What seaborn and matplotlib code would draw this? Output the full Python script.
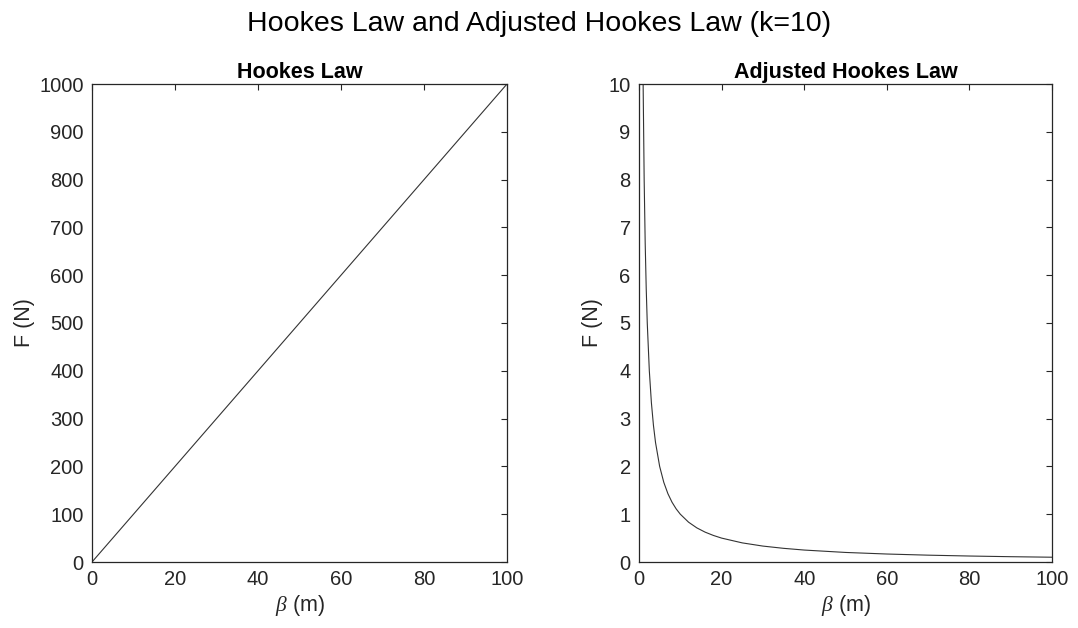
import matplotlib
matplotlib.use("Agg")
import matplotlib.pyplot as plt
import seaborn as sns
import pandas as pd

# Spring constant used in both laws
k = 10

# Hookes law: F = k * beta (straight line)
hooke_beta = [0, 100]
hooke_force = [0, 1000]

# Adjusted Hookes law: F = k / beta
adj_beta = [1, 1.25, 1.5, 1.75, 2, 2.5, 3, 3.5, 4, 5, 6, 7, 8, 9, 10,
            12, 14, 16, 18, 20, 25, 30, 35, 40, 50, 60, 70, 80, 90, 100]
adj_force = [10, 8, 6.667, 5.714, 5, 4, 3.333, 2.857, 2.5, 2, 1.667, 1.429,
             1.25, 1.111, 1, 0.833, 0.714, 0.625, 0.556, 0.5, 0.4, 0.333,
             0.286, 0.25, 0.2, 0.167, 0.143, 0.125, 0.111, 0.1]

x_ticks = [0, 20, 40, 60, 80, 100]
left_y_ticks = [0, 100, 200, 300, 400, 500, 600, 700, 800, 900, 1000]
right_y_ticks = [0, 1, 2, 3, 4, 5, 6, 7, 8, 9, 10]

sns.set_theme(style="white")
plt.rcParams["font.family"] = ["Liberation Sans", "DejaVu Sans"]
plt.rcParams["mathtext.fontset"] = "custom"
plt.rcParams["mathtext.it"] = "Liberation Serif:italic"
plt.rcParams["mathtext.rm"] = "Liberation Sans"

axis_color = "#262626"
label_color = "#262626"

fig = plt.figure(figsize=(10.78, 6.28), dpi=100)
fig.patch.set_facecolor("white")

ax_left = fig.add_axes([92 / 1078, 1 - 562 / 628, 415 / 1078, 478 / 628])
ax_right = fig.add_axes([639 / 1078, 1 - 562 / 628, 413 / 1078, 478 / 628])

df_left = pd.DataFrame({"beta": hooke_beta, "F": hooke_force})
df_right = pd.DataFrame({"beta": adj_beta, "F": adj_force})

sns.lineplot(data=df_left, x="beta", y="F", ax=ax_left, color="#333333",
             linewidth=0.8, sort=True)
sns.lineplot(data=df_right, x="beta", y="F", ax=ax_right, color="#333333",
             linewidth=0.8, sort=True)

for ax, yt, ttl, ypad in [(ax_left, left_y_ticks, "Hookes Law", 3),
                          (ax_right, right_y_ticks, "Adjusted Hookes Law", 4)]:
    ax.set_xlim(0, 100)
    ax.set_ylim(yt[0], yt[-1])
    ax.set_xticks(x_ticks)
    ax.set_yticks(yt)
    ax.set_xticklabels([str(v) for v in x_ticks])
    ax.set_yticklabels([str(v) for v in yt])
    ax.tick_params(direction="in", length=4, width=0.8, colors=axis_color,
                   labelcolor=label_color, labelsize=14.5, top=True,
                   right=True, pad=6)
    for sp in ax.spines.values():
        sp.set_visible(True)
        sp.set_color(axis_color)
        sp.set_linewidth(0.9)
    ax.set_title(ttl, fontsize=15.5, fontweight="bold", color="black", pad=4)
    ax.set_xlabel(r"$\beta$ (m)", fontsize=15.5, color=label_color, labelpad=3)
    ax.set_ylabel("F (N)", fontsize=15.5, color=label_color, labelpad=ypad)
    ax.set_facecolor("white")

fig.suptitle("Hookes Law and Adjusted Hookes Law (k=10)", fontsize=20.5,
             color="black", y=0.982)

fig.savefig("out.png", dpi=100, facecolor="white")
